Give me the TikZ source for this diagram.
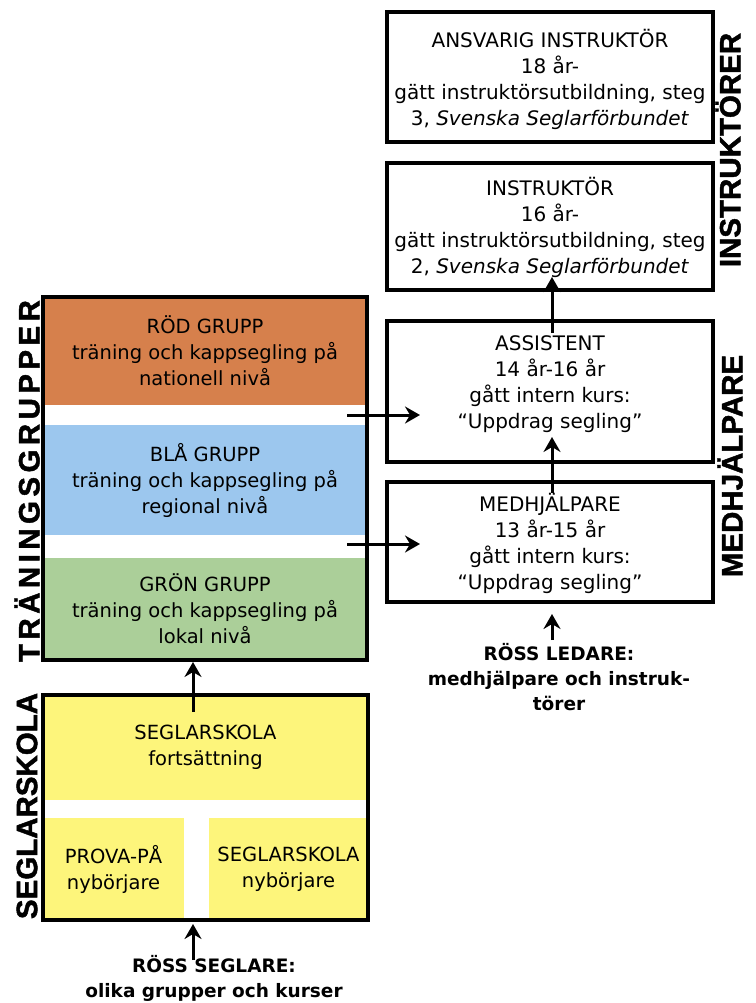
\documentclass[tikz,border=0pt]{standalone}
\usepackage{fontspec}
\setmainfont{DejaVu Sans}
\newfontfamily\sidefont{Liberation Sans}[FakeBold=1.5]
\newfontfamily\sidefontsp{Liberation Sans}[LetterSpace=15,FakeBold=1.5]
\usetikzlibrary{arrows.meta}
\definecolor{cRed}{RGB}{214,128,76}
\definecolor{cBlue}{RGB}{156,199,238}
\definecolor{cGreen}{RGB}{171,207,153}
\definecolor{cYellow}{RGB}{253,245,123}
\tikzset{
  boxtext/.style={align=center, inner sep=0pt, font=\fontsize{20}{26}\selectfont},
  whitebox/.style={draw, line width=4pt, minimum width=326pt, inner sep=0pt},
  band/.style={inner sep=0pt, align=center, font=\fontsize{19.5}{26}\selectfont},
  frame/.style={draw, line width=4pt, inner sep=0pt, fill=none},
  sidelabel/.style={rotate=90, inner sep=0pt, font=\sidefont\bfseries\fontsize{29.5}{30}\selectfont},
  sidelabelsp/.style={rotate=90, inner sep=0pt, font=\sidefontsp\bfseries\fontsize{29.5}{30}\selectfont},
  foot/.style={align=center, inner sep=0pt, font=\bfseries\fontsize{18.5}{25}\selectfont},
  arr/.style={line width=3pt, -{Stealth[length=15pt,width=17pt,inset=5pt]}}
}
\begin{document}
\begin{tikzpicture}[x=1pt,y=-1pt]
\useasboundingbox (0,0) rectangle (755,1003);

% ---------- right column ----------
\node[whitebox, minimum height=130pt] (ansv) at (550,77) {};
\node[boxtext] (ansvT) at (550,79) {ANSVARIG INSTRUKTÖR\\18 år-\\gätt instruktörsutbildning, steg\\3, \textit{Svenska Seglarförbundet}};

\node[whitebox, minimum height=127pt] (instr) at (550,226.5) {};
\node[boxtext] (instrT) at (550,227) {INSTRUKTÖR\\16 år-\\gätt instruktörsutbildning, steg\\2, \textit{Svenska Seglarförbundet}};

\node[whitebox, minimum height=141pt] (assist) at (550,391.5) {};
\node[boxtext] (assistT) at (550,384) {ASSISTENT\\14 år-16 år\\gått intern kurs:\\“Uppdrag segling”};

\node[whitebox, minimum height=120pt] (medh) at (550,542) {};
\node[boxtext] (medhT) at (550,543) {MEDHJÄLPARE\\13 år-15 år\\gått intern kurs:\\“Uppdrag segling”};

\node[sidelabel] (lInstr) at (728,150) {INSTRUKTÖRER};
\node[sidelabel] (lMedh) at (730,466) {MEDHJÄLPARE};

\node[foot] (ledare) at (559,677) {RÖSS LEDARE:\\medhjälpare och instruk-\\törer};

% ---------- training groups ----------
\node[band, fill=cRed, minimum width=324pt, minimum height=108pt] (red) at (205,351) {RÖD GRUPP\\träning och kappsegling på\\nationell nivå};
\node[band, fill=cBlue, minimum width=324pt, minimum height=110pt] (blue) at (205,480) {BLÅ GRUPP\\träning och kappsegling på\\regional nivå};
\node[band, fill=cGreen, minimum width=324pt, minimum height=102pt] (green) at (205,609) {GRÖN GRUPP\\träning och kappsegling på\\lokal nivå};
\node[frame, minimum width=324pt, minimum height=363pt] (train) at (205,478.5) {};

\node[sidelabelsp] (lTrain) at (27,481) {TRÄNINGSGRUPPER};

% ---------- seglarskola ----------
\node[band, fill=cYellow, minimum width=325pt, minimum height=105pt] (fort) at (205.5,747.5) {SEGLARSKOLA\\fortsättning};
\node[band, fill=cYellow, minimum width=141pt, minimum height=102pt] (prova) at (113.5,869) {PROVA-PÅ\\nybörjare};
\node[band, fill=cYellow, minimum width=159pt, minimum height=102pt] (nyb) at (288.5,869) {SEGLARSKOLA\\nybörjare};
\node[frame, minimum width=325pt, minimum height=225pt] (segl) at (205.5,807.5) {};

\node[sidelabel] (lSegl) at (27,806) {SEGLARSKOLA};

\node[foot] (seglare) at (214,978.5) {RÖSS SEGLARE:\\olika grupper och kurser};

% ---------- connectors ----------
\coordinate (a1s) at (347,415);
\coordinate (a1e) at (420,415);
\coordinate (a2s) at (347,544);
\coordinate (a2e) at (420,544);
\draw[arr] (a1s) -- (a1e);
\draw[arr] (a2s) -- (a2e);

\coordinate (m2aS) at (552,493);
\coordinate (m2aE) at (552,437);
\draw[arr] (m2aS) -- (m2aE);

\coordinate (a2iS) at (552,333);
\coordinate (a2iE) at (552,277);
\draw[arr] (a2iS) -- (a2iE);

\coordinate (ledS) at (552,640);
\draw[arr] (ledS) -- ([yshift=-10pt]medh.south -| ledS);

\coordinate (s2tS) at (193,712);
\draw[arr] (s2tS) -- (train.south -| s2tS);

\coordinate (segS) at (193,960);
\draw[arr] (segS) -- ([yshift=-2pt]segl.south -| segS);
\end{tikzpicture}
\end{document}
